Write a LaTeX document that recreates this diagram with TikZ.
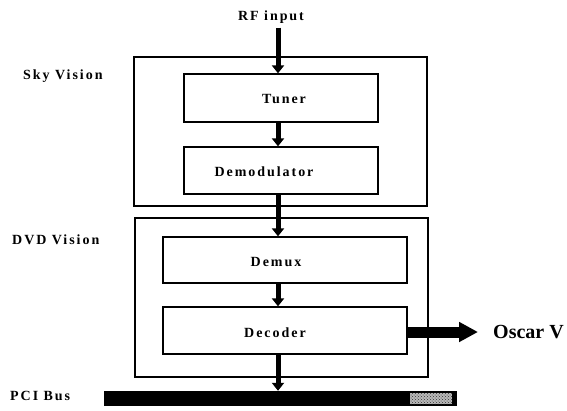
\documentclass[tikz,border=0pt]{standalone}
\usepackage{fontspec}
\setmainfont{Liberation Serif}
\newfontfamily\spaced[LetterSpace=14]{Liberation Serif}
\usetikzlibrary{arrows.meta,patterns}
\begin{document}
\begin{tikzpicture}[x=1pt,y=-1pt,
  frame/.style={draw, line width=1.3pt, inner sep=0pt},
  blk/.style={draw, line width=1.3pt, inner sep=0pt},
  txt/.style={inner sep=0pt, font=\spaced\bfseries\fontsize{14}{16}\selectfont},
  bigtxt/.style={inner sep=0pt, font=\bfseries\fontsize{20}{24}\selectfont},
  flow/.style={line width=5pt, -{Triangle[width=12pt,length=8pt]}},
  bigflow/.style={line width=11pt, -{Triangle[width=19pt,length=19pt]}}
]
\useasboundingbox (0,0) rectangle (567,410);
% group frames
\node[frame, minimum width=293pt, minimum height=149pt] (sky) at (280.5,131.5) {};
\node[frame, minimum width=293pt, minimum height=159pt] (dvd) at (281.5,297.5) {};
% blocks
\node[blk, minimum width=194pt, minimum height=48pt] (tuner) at (281,98) {};
\node[blk, minimum width=194pt, minimum height=47pt] (demod) at (281,170.5) {};
\node[blk, minimum width=244pt, minimum height=46pt] (demux) at (285,260) {};
\node[blk, minimum width=244pt, minimum height=47pt] (decoder) at (285,330.5) {};
% block texts
\node[txt] (tunert) at (284,99) {Tuner};
\node[txt] (demodt) at (264,172) {Demodulator};
\node[txt] (demuxt) at (276,262) {Demux};
\node[txt] (decodert) at (275,333) {Decoder};
% side labels
\node[txt, anchor=west] (skyl) at (23,76) {Sky Vision};
\node[txt, anchor=west] (dvdl) at (12,240) {DVD Vision};
\node[txt, anchor=west] (pcil) at (10,396) {PCI Bus};
\node[txt] (rf) at (271,17) {RF input};
\node[bigtxt, anchor=west] (oscar) at (493,332) {Oscar V};
% PCI bus bar
\node[fill=black, inner sep=0pt, minimum width=353pt, minimum height=15pt] (bus) at (280.5,398.5) {};
\fill[gray!55] (410,393) rectangle (452,404);
\fill[pattern=crosshatch dots, pattern color=black!80] (410,393) rectangle (452,404);
% arrows
\coordinate (ax) at (278,0);
\draw[flow] (rf.south -| ax) ++(0,4) -- (tuner.north -| ax);
\draw[flow] (tuner.south -| ax) -- (demod.north -| ax);
\draw[flow] (demod.south -| ax) -- (demux.north -| ax);
\draw[flow] (demux.south -| ax) -- (decoder.north -| ax);
\draw[flow] (decoder.south -| ax) -- (bus.north -| ax);
\draw[bigflow, shorten >=15pt] ([yshift=-1.5pt]decoder.east) -- (oscar.west);
\end{tikzpicture}
\end{document}
